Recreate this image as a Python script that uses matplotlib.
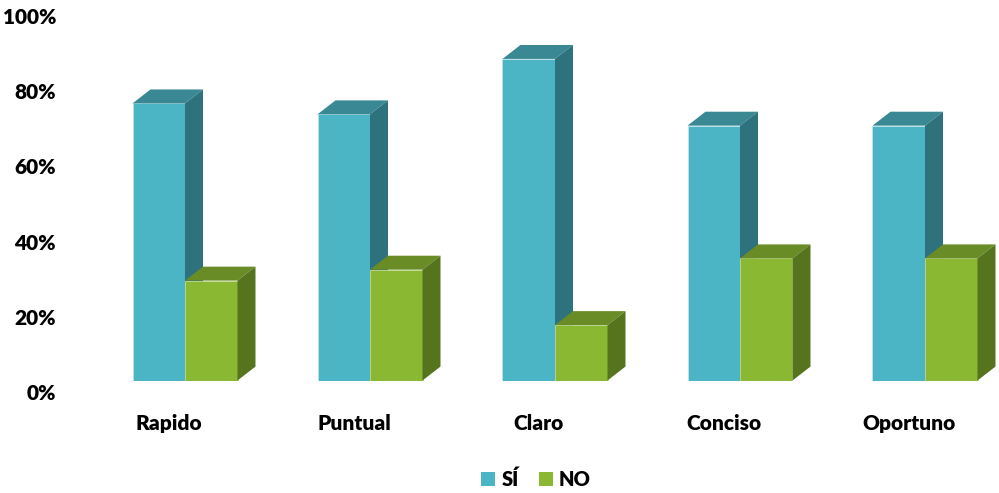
import matplotlib
matplotlib.use("Agg")
from matplotlib import pyplot as plt
from matplotlib.patches import Polygon, Patch
from matplotlib.transforms import ScaledTranslation
import numpy as np

# Encuesta: porcentaje de respuestas por atributo
categories = ["Rapido", "Puntual", "Claro", "Conciso", "Oportuno"]
si_values = [73.5, 70.6, 85.3, 67.6, 67.6]
no_values = [26.5, 29.4, 14.7, 32.4, 32.4]
series_names = ["SÍ", "NO"]

colors = {
    "SÍ": ("#4BB5C6", "#3A8894", "#2D727C"),   # front, top, side
    "NO": ("#8AB833", "#6A8C27", "#56741E"),
}

plt.rcParams["font.family"] = ["Lato", "DejaVu Sans"]
WEIGHT = "heavy"

fig = plt.figure(figsize=(9.99, 4.93), dpi=100)
ax = fig.add_axes([70 / 999, 112.5 / 493, 929 / 999, 377 / 493])
ax.set_xlim(-115 / 185, 814 / 185)
ax.set_ylim(0, 100)

width = 52.5 / 185
depth_x = 18 / 185
depth_y = 3.7

x = np.arange(len(categories))


def draw_box_bars(xs, values, name):
    front, top, side = colors[name]
    bars = ax.bar(xs, values, width=width, align="edge", color=front,
                  edgecolor="#bfe3ea" if name == "SÍ" else "#c5dc9a",
                  linewidth=0.6, zorder=2)
    for bar in bars:
        x0 = bar.get_x()
        x1 = x0 + bar.get_width()
        h = bar.get_height()
        ax.add_patch(Polygon([(x0, h), (x1, h), (x1 + depth_x, h + depth_y),
                              (x0 + depth_x, h + depth_y)],
                             closed=True, facecolor=top, edgecolor="none", zorder=2))
        ax.add_patch(Polygon([(x1, 0), (x1 + depth_x, depth_y),
                              (x1 + depth_x, h + depth_y), (x1, h)],
                             closed=True, facecolor=side, edgecolor="none", zorder=2))
    return bars


draw_box_bars(x - width, si_values, "SÍ")
draw_box_bars(x, no_values, "NO")

for s in ax.spines.values():
    s.set_visible(False)

ax.set_yticks(range(0, 101, 20))
ax.set_yticklabels([f"{v}%" for v in range(0, 101, 20)], fontsize=15, fontweight=WEIGHT)
ax.tick_params(axis="y", length=0, pad=10)
ax.set_xticks(x)
ax.set_xticklabels(categories, fontsize=15, fontweight=WEIGHT)
ax.tick_params(axis="x", length=0, pad=24)

down = ScaledTranslation(0, -12 / 100, fig.dpi_scale_trans)
for lbl in ax.get_yticklabels():
    lbl.set_transform(lbl.get_transform() + down)
left = ScaledTranslation(-16 / 100, 0, fig.dpi_scale_trans)
for lbl in ax.get_xticklabels():
    lbl.set_transform(lbl.get_transform() + left)

handles = [Patch(facecolor=colors[n][0], edgecolor="none") for n in series_names]
fig.legend(handles, series_names, loc="center", bbox_to_anchor=(536 / 999, 14 / 493),
           ncol=2, frameon=False, handlelength=0.7, handleheight=0.7,
           handletextpad=0.3, columnspacing=1.0, prop={"weight": WEIGHT, "size": 14.5})

fig.savefig("out.png", dpi=100)
